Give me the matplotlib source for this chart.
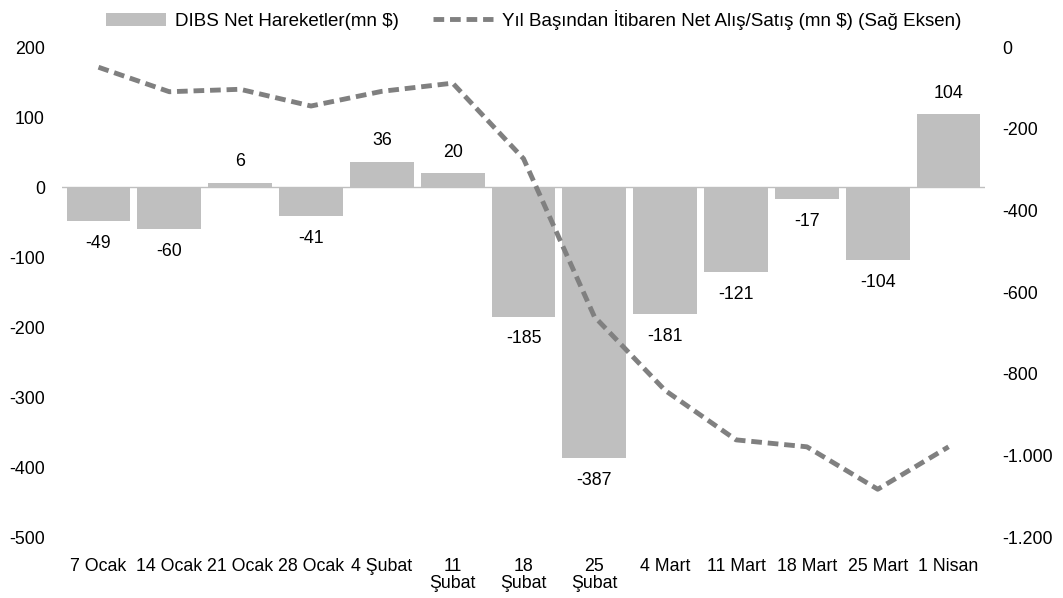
import numpy as np
import matplotlib.pyplot as plt
from matplotlib.ticker import FuncFormatter

plt.rcParams['font.family'] = ['Liberation Sans', 'DejaVu Sans']
plt.rcParams['axes.unicode_minus'] = False

# data
weeks = ['7 Ocak', '14 Ocak', '21 Ocak', '28 Ocak', '4 Şubat', '11\nŞubat', '18\nŞubat',
         '25\nŞubat', '4 Mart', '11 Mart', '18 Mart', '25 Mart', '1 Nisan']
net_flows = [-49, -60, 6, -41, 36, 20, -185, -387, -181, -121, -17, -104, 104]
cumulative = [-49, -109, -103, -144, -108, -88, -273, -660, -841, -962, -979, -1083, -979]

bar_color = '#BFBFBF'
line_color = '#808080'
txt = '#000000'
fs = 12.8

fig = plt.figure(figsize=(10.63, 5.98), dpi=100, facecolor='w')
ax = fig.add_axes([0.058, 0.102, 0.869, 0.819])
ax2 = ax.twinx()

x = np.arange(len(weeks))
bars = ax.bar(x, net_flows, width=0.9, color=bar_color, label='DIBS Net Hareketler(mn $)', zorder=2)
ln, = ax2.plot(x, cumulative, color=line_color, lw=3.5, dashes=(2.2, 1.2),
               label='Yıl Başından İtibaren Net Alış/Satış (mn $) (Sağ Eksen)', zorder=3)

ax.set_ylim(-500, 200)
ax.set_yticks(np.arange(-500, 201, 100))
ax2.set_ylim(-1200, 0)
ax2.set_yticks(np.arange(-1200, 1, 200))
ax2.yaxis.set_major_formatter(FuncFormatter(lambda v, p: f'{v:,.0f}'.replace(',', '.')))
ax.set_xlim(-0.52, len(weeks) - 0.48)

ax.set_zorder(ax2.get_zorder() - 1)
ax2.patch.set_visible(False)

for a in (ax, ax2):
    for s in a.spines.values():
        s.set_visible(False)
    a.tick_params(axis='both', length=0, labelsize=fs, colors=txt)
ax.tick_params(axis='y', pad=12)
ax2.tick_params(axis='y', pad=12)

ax.axhline(0, color='#BFBFBF', lw=1, zorder=1)
ax.set_xticks(x)
ax.set_xticklabels(weeks, fontsize=fs, linespacing=1.0, va='top')
ax.tick_params(axis='x', pad=15)

for xi, v in zip(x, net_flows):
    if v >= 0:
        ax.annotate(str(v), (xi, v), xytext=(0, 9), textcoords='offset points',
                    ha='center', va='bottom', fontsize=fs)
    else:
        ax.annotate(str(v), (xi, v), xytext=(0, -10), textcoords='offset points',
                    ha='center', va='top', fontsize=fs)

fig.legend(handles=[bars, ln], loc='upper center', bbox_to_anchor=(0.502, 1.012), ncol=2,
           frameon=False, fontsize=13.5, handlelength=3.2, columnspacing=1.8, handletextpad=0.5)

fig.savefig('out.png', dpi=100)
